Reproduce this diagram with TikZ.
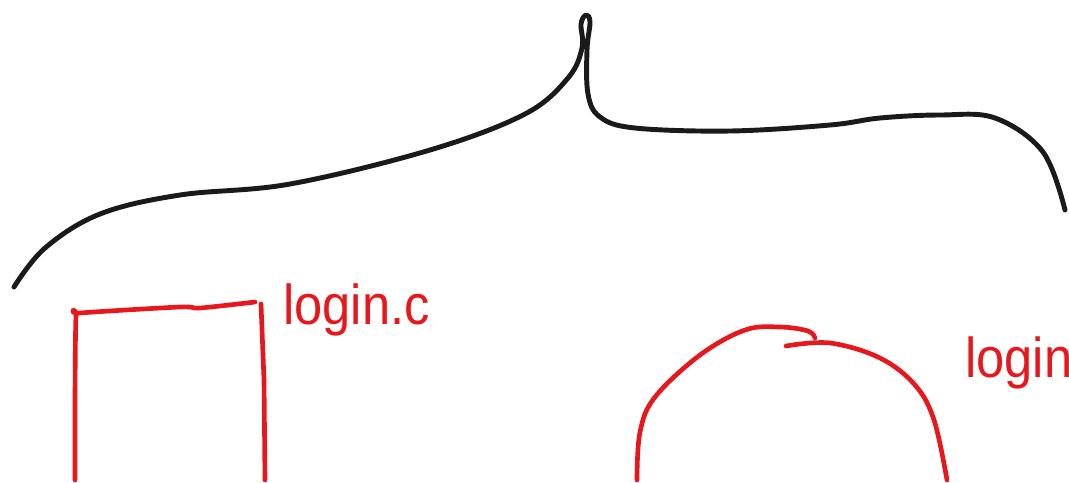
\documentclass[tikz,border=0pt]{standalone}
\usepackage{fontspec}
\setmainfont{Liberation Sans}
\definecolor{inkred}{HTML}{E8171B}
\definecolor{inkblack}{HTML}{1A1A1A}
\tikzset{
  every picture/.style={line join=round, line cap=round},
  brace/.style={inkblack, line width=3.5pt},
  redink/.style={inkred, line width=3.3pt},
  label/.style={inkred, font=\fontsize{40}{40}\selectfont, inner sep=0pt, xscale=0.9},
}

\begin{document}
\begin{tikzpicture}[x=0.025cm,y=-0.025cm]
\useasboundingbox (0,0) rectangle (1069,482);
% brace over both files
\draw[brace] plot[smooth,tension=0.6] coordinates {(14,287) (45,248) (100,214) (180,195) (290,184) (430,150) (525,114) (568,78) (582,48) (581,24) (586,15) (590,22) (587,50) (588,94) (600,117) (635,128) (730,131) (830,125) (880,118) (940,115) (995,118) (1043,152) (1065,210)};
% source file
\draw[redink] plot[smooth,tension=0.5] coordinates {(75,480) (75,400) (76,316) (80,313) (180,307) (200,308) (255,302)};
\draw[redink] (261,304) -- (264,380) -- (265,480);
\node[label,anchor=base west] (ctext) at (283,324) {login.c};
% compiled program
\draw[redink] plot[smooth,tension=0.6] coordinates {(637,480) (640,432) (655,397) (700,355) (745,330) (780,327) (808,331) (815,338)};
\draw[redink] plot[smooth,tension=0.6] coordinates {(786,346) (830,343) (880,358) (915,385) (934,420) (947,480)};
\node[label,anchor=base west] (bintext) at (965,377) {login};
\end{tikzpicture}
\end{document}
